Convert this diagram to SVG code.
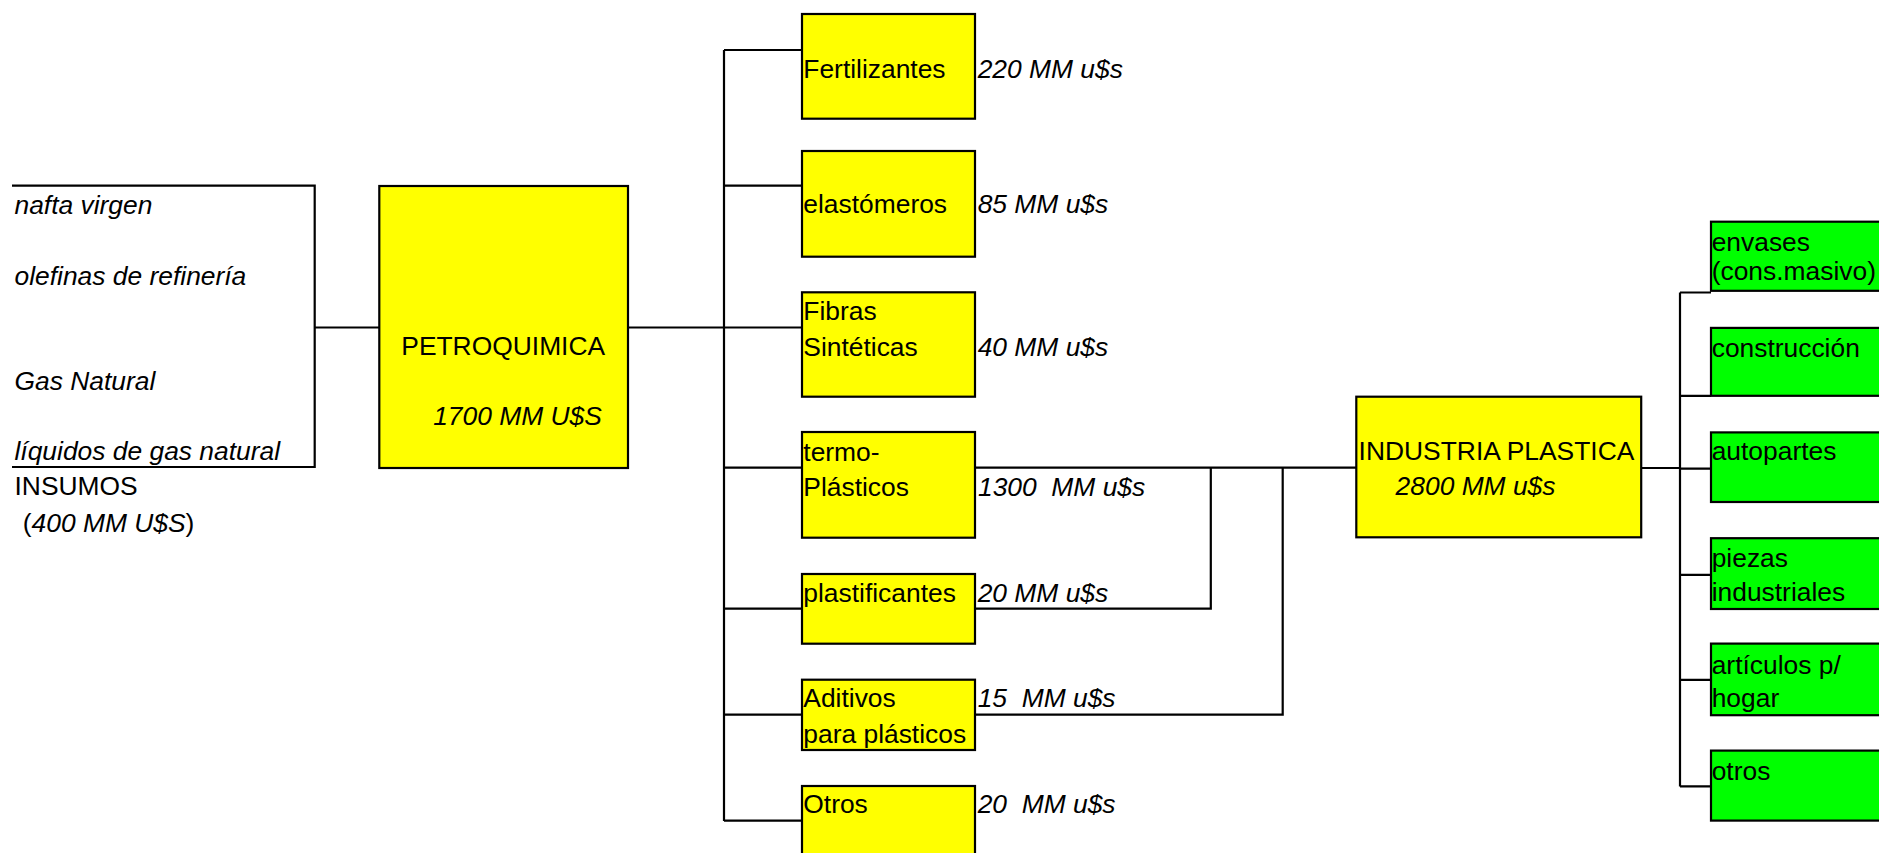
<svg xmlns="http://www.w3.org/2000/svg" width="1879" height="853" viewBox="0 0 1879 853">
<style>
text{font-family:"Liberation Sans",Arial,sans-serif;font-size:26.4px;fill:#000}
.it{font-style:italic}
.y{fill:#ffff00;stroke:#000;stroke-width:2.2}
.g{fill:#00ff00;stroke:#000;stroke-width:2.2}
.ln{fill:none;stroke:#000;stroke-width:2.2}
</style>
<rect width="1879" height="853" fill="#fff"/>
<g id="connectors" class="ln">
<path d="M315 327.5H379"/>
<path d="M628 327.5H802"/>
<path d="M724 50V821"/>
<path d="M724 50H802M724 185.7H802M724 467.7H802M724 608.7H802M724 714.7H802M724 820.7H802"/>
<path d="M975 467.7H1356"/>
<path d="M975 608.7H1210.8V467.7"/>
<path d="M975 714.7H1282.7V467.7"/>
<path d="M1641 468H1680"/>
<path d="M1680 292.5V786.4"/>
<path d="M1680 292.5H1711M1680 395.8H1711M1680 468.6H1711M1680 574.8H1711M1680 679.8H1711M1680 786.4H1711"/>
</g>
<g id="insumos">
<path class="ln" d="M12 185.7H314.7V467H12"/>
<text class="it" x="14.5" y="214">nafta virgen</text>
<text class="it" x="14.5" y="285">olefinas de refinería</text>
<text class="it" x="14.5" y="390">Gas Natural</text>
<text class="it" x="14.5" y="460">líquidos de gas natural</text>
<text x="14.5" y="495">INSUMOS</text>
<text x="22.8" y="531.7">(<tspan class="it">400 MM U$S</tspan>)</text>
</g>
<g id="petroquimica">
<rect class="y" x="379.3" y="186" width="248.7" height="282"/>
<text x="401.3" y="355">PETROQUIMICA</text>
<text class="it" x="433.2" y="425">1700 MM U$S</text>
</g>
<g id="fertilizantes">
<rect class="y" x="802" y="14" width="173" height="104.7"/>
<text x="803.3" y="77.7">Fertilizantes</text>
<text class="it" x="977.7" y="77.7">220 MM u$s</text>
</g>
<g id="elastomeros">
<rect class="y" x="802" y="151" width="173" height="105.7"/>
<text x="803.3" y="213.3">elastómeros</text>
<text class="it" x="977.7" y="213.3">85 MM u$s</text>
</g>
<g id="fibras">
<rect class="y" x="802" y="292.3" width="173" height="104.4"/>
<text x="803.3" y="320">Fibras</text>
<text x="803.3" y="355.7">Sintéticas</text>
<text class="it" x="977.7" y="355.7">40 MM u$s</text>
</g>
<g id="termoplasticos">
<rect class="y" x="802" y="432" width="173" height="105.7"/>
<text x="803.3" y="460.7">termo-</text>
<text x="803.3" y="495.7">Plásticos</text>
<text class="it" x="978" y="495.7" xml:space="preserve">1300  MM u$s</text>
</g>
<g id="plastificantes">
<rect class="y" x="802" y="574" width="173" height="69.7"/>
<text x="803.3" y="601.7">plastificantes</text>
<text class="it" x="977.7" y="601.7">20 MM u$s</text>
</g>
<g id="aditivos">
<rect class="y" x="802" y="679.7" width="173" height="70.3"/>
<text x="803.3" y="707.3">Aditivos</text>
<text x="803.3" y="743.3">para plásticos</text>
<text class="it" x="977.7" y="707.3" xml:space="preserve">15  MM u$s</text>
</g>
<g id="otros-petro">
<rect class="y" x="802" y="786" width="173" height="80"/>
<text x="803.3" y="813.3">Otros</text>
<text class="it" x="977.7" y="813.3" xml:space="preserve">20  MM u$s</text>
</g>
<g id="industria-plastica">
<rect class="y" x="1356.3" y="396.7" width="284.9" height="140.6"/>
<text x="1358.6" y="460">INDUSTRIA PLASTICA</text>
<text class="it" x="1395.6" y="495">2800 MM u$s</text>
</g>
<g id="envases">
<rect class="g" x="1711" y="221.7" width="170" height="69.1"/>
<text x="1711.7" y="250.8">envases</text>
<text x="1711.7" y="280.4">(cons.masivo)</text>
</g>
<g id="construccion">
<rect class="g" x="1711" y="327.9" width="170" height="67.9"/>
<text x="1711.7" y="357.4">construcción</text>
</g>
<g id="autopartes">
<rect class="g" x="1711" y="432.4" width="170" height="69.6"/>
<text x="1711.7" y="460.3">autopartes</text>
</g>
<g id="piezas">
<rect class="g" x="1711" y="538.2" width="170" height="70.8"/>
<text x="1711.7" y="567.3">piezas</text>
<text x="1711.7" y="600.7">industriales</text>
</g>
<g id="articulos">
<rect class="g" x="1711" y="643.6" width="170" height="71.6"/>
<text x="1711.7" y="674">artículos p/</text>
<text x="1711.7" y="706.9">hogar</text>
</g>
<g id="otros-plast">
<rect class="g" x="1711" y="750.6" width="170" height="70"/>
<text x="1711.7" y="779.8">otros</text>
</g>
</svg>
